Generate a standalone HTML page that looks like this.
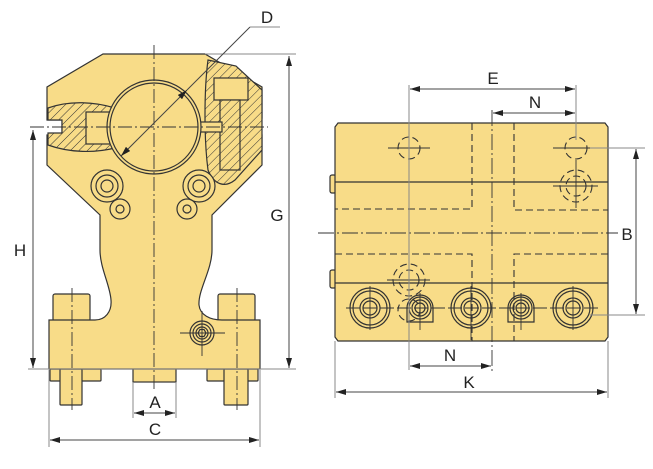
<!DOCTYPE html>
<html><head><meta charset="utf-8"><style>
html,body{margin:0;padding:0;background:#fff;}
svg{display:block;}
text{font-family:"Liberation Sans",sans-serif;font-size:17px;fill:#222;text-anchor:middle;}
</style></head><body>
<svg width="653" height="469" viewBox="0 0 653 469" xmlns="http://www.w3.org/2000/svg">
<defs>
<marker id="ar" viewBox="0 0 10 6" refX="10" refY="3" markerWidth="10" markerHeight="6" orient="auto-start-reverse" markerUnits="userSpaceOnUse"><path d="M0,0 L10,3 L0,6 Z" fill="#222"/></marker>
<pattern id="hatch" width="6" height="6" patternUnits="userSpaceOnUse" patternTransform="rotate(45)"><rect width="6" height="6" fill="#f8dc88"/><line x1="0" y1="0" x2="0" y2="6" stroke="#333" stroke-width="1"/></pattern>
<clipPath id="outc"><path d="M0,0 H653 V469 H0 Z M201,127 A47,47 0 1 0 107,127 A47,47 0 1 0 201,127 Z" clip-rule="evenodd"/></clipPath>
</defs>
<g stroke="#333" stroke-width="1.2" fill="#f8dc88">
<rect x="53" y="294" width="37" height="27" rx="2"/>
<rect x="218" y="294" width="37" height="27" rx="2"/>
<rect x="50" y="369" width="51" height="12" rx="1"/>
<rect x="207" y="369" width="51" height="12" rx="1"/>
<rect x="60" y="369" width="22" height="36" rx="1"/>
<rect x="224" y="369" width="24" height="36" rx="1"/>
<rect x="133" y="358" width="43" height="24"/>
<path d="M103,54 L205,54 L262,87 L262,118 L248,118 L248,135 L262,135 L262,165 L212,215 L212,250 C212,270 198,290 199,305 C200,315 210,320 222,320 L260,320 L260,369 L49,369 L49,320 L95,320 C105,320 112,312 111,300 C110,285 100,268 100,250 L100,215 L47,165 L47,135 L62,135 L62,120 L47,120 L47,87 Z"/>
<g clip-path="url(#outc)">
<path d="M48,108 C70,100 95,102 115,108 L115,148 C95,153 70,153 48,145 L48,133 L62,133 L62,120 L48,120 Z" fill="url(#hatch)"/>
<rect x="86" y="112" width="30" height="32" fill="#f8dc88"/>
</g>
<path d="M208,60 C204,90 204,140 208,170 C214,185 225,188 235,180 L262,150 L262,90 L236,66 Z" fill="url(#hatch)"/>
<rect x="214" y="78" width="34" height="22" fill="#f8dc88"/>
<rect x="220" y="100" width="20" height="70" fill="url(#hatch)"/>
<rect x="200" y="122" width="22" height="10" fill="#f8dc88"/>
<circle cx="154" cy="127" r="47" fill="#f8dc88"/>
<circle cx="154" cy="127" r="44" fill="none"/>
<circle cx="107" cy="186" r="16"/><circle cx="107" cy="186" r="11"/><circle cx="107" cy="186" r="6"/>
<circle cx="120" cy="209" r="10"/><circle cx="120" cy="209" r="4"/>
<circle cx="199" cy="186" r="16"/><circle cx="199" cy="186" r="11"/><circle cx="199" cy="186" r="6"/>
<circle cx="187" cy="209" r="10"/><circle cx="187" cy="209" r="4"/>
<circle cx="202" cy="333" r="12"/><circle cx="202" cy="333" r="9"/><circle cx="202" cy="333" r="6"/>
<path d="M198,333 l2,-3.5 h4 l2,3.5 l-2,3.5 h-4 Z"/>
</g>
<g stroke="#333" stroke-width="0.9" fill="none" stroke-dasharray="14,3,2,3">
<line x1="154" y1="45" x2="154" y2="390"/>
<line x1="30" y1="127" x2="268" y2="127"/>
<line x1="72" y1="288" x2="72" y2="410"/>
<line x1="237" y1="288" x2="237" y2="410"/>
</g>
<g stroke="#333" stroke-width="0.9">
<line x1="180" y1="333" x2="225" y2="333"/><line x1="202" y1="311" x2="202" y2="356"/>
</g>
<g stroke="#888" stroke-width="1" fill="none">
<line x1="205" y1="54" x2="296" y2="54"/>
<line x1="28" y1="369" x2="296" y2="369"/>
<line x1="49" y1="370" x2="49" y2="447"/>
<line x1="260" y1="370" x2="260" y2="447"/>
<line x1="133" y1="382" x2="133" y2="418"/>
<line x1="176" y1="382" x2="176" y2="418"/>
<line x1="250" y1="27" x2="280" y2="27"/>
</g>
<g stroke="#444" stroke-width="1" fill="none">
<line x1="289" y1="56" x2="289" y2="368" marker-start="url(#ar)" marker-end="url(#ar)"/>
<line x1="33" y1="130" x2="33" y2="368" marker-start="url(#ar)" marker-end="url(#ar)"/>
<line x1="250" y1="27" x2="187" y2="90"/>
<line x1="121" y1="156" x2="187" y2="90" marker-start="url(#ar)" marker-end="url(#ar)"/>
<line x1="134" y1="413" x2="175" y2="413" marker-start="url(#ar)" marker-end="url(#ar)"/>
<line x1="50" y1="440" x2="259" y2="440" marker-start="url(#ar)" marker-end="url(#ar)"/>
</g>
<text x="267" y="23">D</text>
<text x="277" y="221">G</text>
<text x="20" y="256">H</text>
<text x="155" y="408">A</text>
<text x="155" y="435">C</text>

<!-- RIGHT VIEW -->
<g stroke="#333" stroke-width="1.2" fill="#f8dc88">
<rect x="330" y="175" width="6" height="18" rx="2"/>
<rect x="330" y="270" width="6" height="18" rx="2"/>
<path d="M338,123 L605,123 L608,127 L608,337 L605,341 L338,341 L335,337 L335,127 Z"/>
<line x1="335" y1="182" x2="608" y2="182"/>
<line x1="335" y1="283" x2="608" y2="283"/>
</g>
<g stroke="#333" stroke-width="1.1" fill="none" stroke-dasharray="7,4">
<path d="M472,123 L472,209 L335,209"/>
<path d="M514,123 L514,210 L608,210"/>
<path d="M335,254 L472,254 L472,341"/>
<path d="M608,254 L514,254 L514,341"/>
<circle cx="409" cy="148" r="11"/>
<circle cx="576" cy="148" r="11"/>
<circle cx="576" cy="186" r="10"/><circle cx="576" cy="186" r="16"/>
<circle cx="409" cy="280" r="10"/><circle cx="409" cy="280" r="16"/>
<circle cx="409" cy="310" r="11"/>
</g>
<g stroke="#333" stroke-width="0.9" fill="none" stroke-dasharray="16,3,2,3">
<line x1="318" y1="233" x2="618" y2="233"/>
<line x1="492" y1="110" x2="492" y2="372"/>
</g>
<g stroke="#333" stroke-width="1.2" fill="none">
<circle cx="370" cy="308" r="20"/><circle cx="370" cy="308" r="17"/><circle cx="370" cy="308" r="10"/><circle cx="370" cy="308" r="7"/>
<circle cx="471" cy="308" r="20"/><circle cx="471" cy="308" r="17"/><circle cx="471" cy="308" r="10"/><circle cx="471" cy="308" r="7"/>
<circle cx="573" cy="308" r="20"/><circle cx="573" cy="308" r="17"/><circle cx="573" cy="308" r="10"/><circle cx="573" cy="308" r="7"/>
<path d="M407,322 L407,308 A13,13 0 0 1 433,308 L433,322 Z"/>
<circle cx="420" cy="308" r="11"/><circle cx="420" cy="308" r="8"/><circle cx="420" cy="308" r="5"/>
<path d="M508,322 L508,308 A13,13 0 0 1 534,308 L534,322 Z"/>
<circle cx="521" cy="308" r="11"/><circle cx="521" cy="308" r="8"/><circle cx="521" cy="308" r="5"/>
</g>
<g stroke="#333" stroke-width="0.9">
<line x1="388" y1="148" x2="430" y2="148"/><line x1="409" y1="136" x2="409" y2="172"/>
<line x1="553" y1="148" x2="598" y2="148"/><line x1="576" y1="160" x2="576" y2="208"/>
<line x1="553" y1="186" x2="598" y2="186"/>
<line x1="387" y1="280" x2="430" y2="280"/><line x1="409" y1="265" x2="409" y2="300"/>
<line x1="346" y1="308" x2="600" y2="308" stroke-dasharray="14,3"/>
<line x1="370" y1="286" x2="370" y2="330"/>
<line x1="471" y1="286" x2="471" y2="340"/>
<line x1="573" y1="286" x2="573" y2="330"/>
<line x1="420" y1="293" x2="420" y2="330"/>
<line x1="521" y1="293" x2="521" y2="330"/>
</g>
<g stroke="#888" stroke-width="1" fill="none">
<line x1="409" y1="85" x2="409" y2="370"/>
<line x1="576" y1="85" x2="576" y2="140"/>
<line x1="335" y1="341" x2="335" y2="398"/>
<line x1="608" y1="341" x2="608" y2="398"/>
<line x1="590" y1="148" x2="645" y2="148"/>
<line x1="590" y1="315" x2="645" y2="315"/>
</g>
<g stroke="#444" stroke-width="1" fill="none">
<line x1="410" y1="89" x2="575" y2="89" marker-start="url(#ar)" marker-end="url(#ar)"/>
<line x1="493" y1="113" x2="575" y2="113" marker-start="url(#ar)" marker-end="url(#ar)"/>
<line x1="636" y1="149" x2="636" y2="314" marker-start="url(#ar)" marker-end="url(#ar)"/>
<line x1="410" y1="366" x2="491" y2="366" marker-start="url(#ar)" marker-end="url(#ar)"/>
<line x1="336" y1="392" x2="607" y2="392" marker-start="url(#ar)" marker-end="url(#ar)"/>
</g>
<text x="493" y="84">E</text>
<text x="535" y="108">N</text>
<text x="627" y="240">B</text>
<text x="450" y="361">N</text>
<text x="469" y="388">K</text>
</svg>
</body></html>
